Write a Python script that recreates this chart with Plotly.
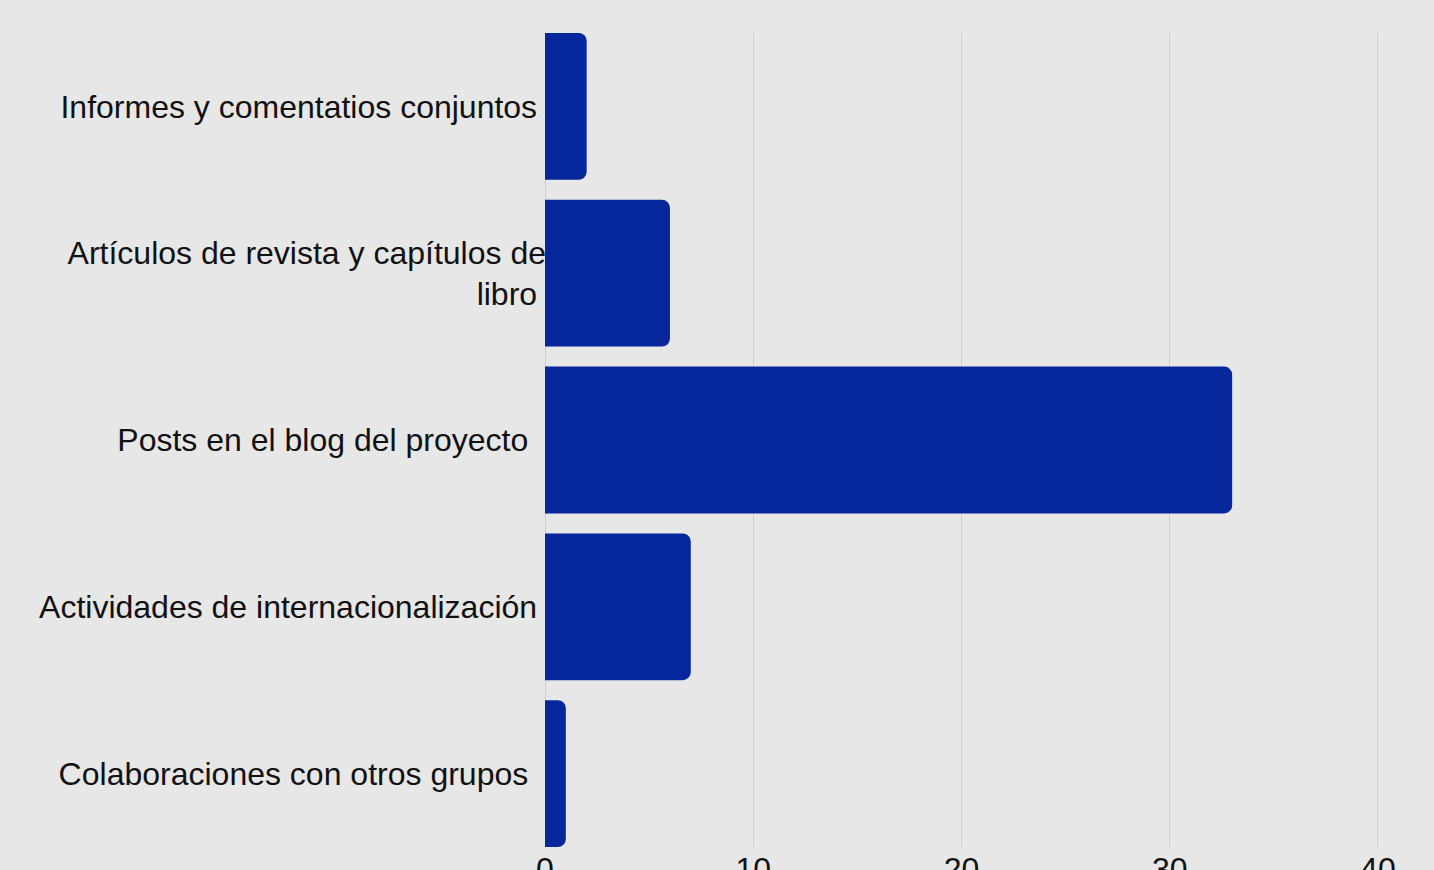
import plotly.graph_objects as go

NB = "\u00a0"
categories = [
    "Informes y comentatios conjuntos" + NB,
    "Artículos de revista y capítulos de<br>libro" + NB,
    "Posts en el blog del proyecto" + NB + NB,
    "Actividades de internacionalización" + NB,
    "Colaboraciones con otros grupos" + NB + NB,
]
values = [2, 6, 33, 7, 1]
x_ticks = [0, 10, 20, 30, 40]

fig = go.Figure(
    go.Bar(
        x=values,
        y=categories,
        orientation="h",
        marker=dict(color="#05279b", line=dict(width=0)),
        width=0.88,
    )
)

fig.update_layout(
    width=1434,
    height=870,
    margin=dict(l=545, r=54, t=33, b=23),
    paper_bgcolor="#e7e7e7",
    plot_bgcolor="rgba(0,0,0,0)",
    barcornerradius=8,
    showlegend=False,
    font=dict(family="Liberation Sans, Arial, sans-serif", size=32, color="#111111"),
)
fig.update_xaxes(
    range=[0, 40.1],
    tickvals=x_ticks,
    showgrid=True,
    gridcolor="#cfcfcf",
    gridwidth=1,
    zeroline=True,
    zerolinecolor="#cfcfcf",
    zerolinewidth=1,
    showline=False,
    ticks="",
    automargin=False,
    tickfont=dict(size=32, color="#111111"),
)
fig.update_yaxes(
    range=[4.44, -0.44],
    showgrid=False,
    zeroline=False,
    showline=False,
    ticks="",
    automargin=False,
    ticklabelstandoff=-2,
    tickfont=dict(size=32, color="#111111"),
)

fig.write_html(
    "out.html",
    config={"displayModeBar": False},
    post_script="document.body.style.margin='0';document.body.style.overflow='hidden';",
)
